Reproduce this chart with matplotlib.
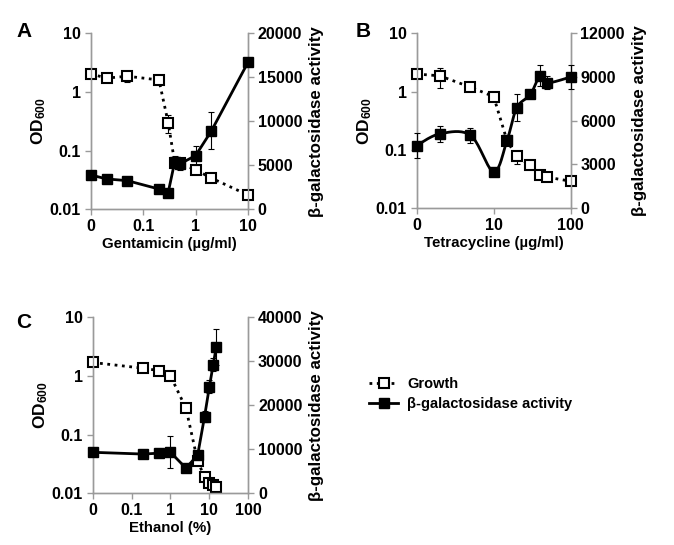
import numpy as np
import matplotlib
matplotlib.use("Agg")
import matplotlib.pyplot as plt
from matplotlib.lines import Line2D

plt.rcParams['font.family'] = ['Liberation Sans', 'DejaVu Sans']
plt.rcParams['font.weight'] = 'bold'
plt.rcParams['mathtext.fontset'] = 'custom'
plt.rcParams['mathtext.rm'] = 'Liberation Sans:bold'
plt.rcParams['mathtext.bf'] = 'Liberation Sans:bold'

# Panel A: gentamicin
genta_conc = [0, 0.02, 0.05, 0.2, 0.3, 0.4, 0.5, 1, 2, 10]
genta_growth = [2.03, 1.72, 1.85, 1.6, 0.30, 0.062, 0.061, 0.047, 0.034, 0.0175]
genta_growth_err = [0.2, 0.2, 0.35, 0.15, 0.1, 0.01, 0.015, 0.006, 0.003, 0.002]
genta_bgal = [3900, 3450, 3250, 2300, 1900, 5400, 5150, 6100, 8900, 16700]
genta_bgal_err = [200, 150, 150, 150, 150, 600, 400, 1100, 2100, 300]

# Panel B: tetracycline
tet_conc = [0, 2, 5, 10, 15, 20, 30, 40, 50, 100]
tet_growth = [2.0, 1.86, 1.19, 0.82, 0.14, 0.077, 0.054, 0.037, 0.034, 0.029]
tet_growth_err = [0.1, 0.7, 0.15, 0.08, 0.02, 0.02, 0.005, 0.004, 0.003, 0.002]
tet_bgal = [4300, 5100, 5000, 2500, 4700, 6900, 7800, 9100, 8600, 9000]
tet_bgal_err = [850, 550, 500, 100, 200, 900, 200, 700, 450, 800]

# Panel C: ethanol
eth_conc = [0, 0.2, 0.5, 1, 2.5, 5, 7.5, 10, 12.5, 15]
eth_growth = [1.69, 1.35, 1.23, 1.0, 0.28, 0.035, 0.019, 0.015, 0.014, 0.0126]
eth_growth_err = [0.1, 0.1, 0.05, 0.12, 0.03, 0.005, 0.002, 0.002, 0.002, 0.001]
eth_bgal = [9300, 8900, 9100, 9300, 5700, 8700, 17400, 24200, 29200, 33200]
eth_bgal_err = [500, 200, 200, 3600, 300, 800, 1300, 1500, 1500, 4100]

GRAY = '#9a9a9a'
MS = 7


def smooth_curve(x, y, n=20):
    """Catmull-Rom curve through the points, in log-x space (Excel style smoothing)"""
    lx = np.log10(x)
    y = np.asarray(y, dtype=float)
    px = np.concatenate([[lx[0]], lx, [lx[-1]]])
    py = np.concatenate([[y[0]], y, [y[-1]]])
    xs, ys = [], []
    for i in range(1, len(px) - 2):
        t = np.linspace(0, 1, n, endpoint=False)
        for p, out in ((px, xs), (py, ys)):
            p0, p1, p2, p3 = p[i - 1], p[i], p[i + 1], p[i + 2]
            out.extend(0.5 * ((2 * p1) + (-p0 + p2) * t
                              + (2 * p0 - 5 * p1 + 4 * p2 - p3) * t ** 2
                              + (-p0 + 3 * p1 - 3 * p2 + p3) * t ** 3))
    xs.append(lx[-1])
    ys.append(y[-1])
    return 10 ** np.array(xs), np.array(ys)


def draw_panel(rect, letter, letter_xy, conc, zero_pos, xmax, xticks, xticklabels,
               xlabel, growth, growth_err, bgal, bgal_err, bgal_max, bgal_step,
               smooth=False):
    ax = fig.add_axes(rect)
    ax2 = ax.twinx()
    x = np.array([zero_pos if c == 0 else c for c in conc], dtype=float)

    ax.set_xscale('log')
    ax.set_yscale('log')
    ax.set_xlim(zero_pos, xmax)
    ax.set_ylim(0.01, 10)
    ax2.set_ylim(0, bgal_max)

    ax.errorbar(x, growth, yerr=growth_err, fmt='none', ecolor='black',
                elinewidth=0.8, capsize=2.5, capthick=0.8, clip_on=False, zorder=3)
    ax.plot(x, growth, linestyle=':', color='black', linewidth=2.0, marker='s',
            markersize=MS, markerfacecolor='white', markeredgecolor='black',
            markeredgewidth=1.5, clip_on=False, zorder=4)

    ax2.errorbar(x, bgal, yerr=bgal_err, fmt='none', ecolor='black',
                 elinewidth=0.8, capsize=2.5, capthick=0.8, clip_on=False, zorder=3)
    if smooth:
        sx, sy = smooth_curve(x, bgal)
        ax2.plot(sx, sy, color='black', linewidth=2.0, clip_on=False, zorder=4)
        ax2.plot(x, bgal, linestyle='none', marker='s', markersize=MS,
                 color='black', clip_on=False, zorder=5)
    else:
        ax2.plot(x, bgal, color='black', linewidth=2.0, marker='s', markersize=MS,
                 clip_on=False, zorder=4)

    ax.set_xticks(xticks)
    ax.set_xticklabels(xticklabels)
    ax.xaxis.set_minor_locator(matplotlib.ticker.NullLocator())
    ax.yaxis.set_minor_locator(matplotlib.ticker.NullLocator())
    ax.set_yticks([0.01, 0.1, 1, 10])
    ax.set_yticklabels(['0.01', '0.1', '1', '10'])
    ax2.set_yticks(np.arange(0, bgal_max + 1, bgal_step))

    for a in (ax, ax2):
        a.spines['top'].set_visible(False)
        for s in ('left', 'right', 'bottom'):
            a.spines[s].set_color(GRAY)
            a.spines[s].set_linewidth(1.0)
        a.tick_params(axis='both', which='major', color=GRAY, length=4,
                      width=1.0, labelsize=11.5, pad=3)

    ax.set_xlabel(xlabel, fontsize=10.8, fontweight='bold', labelpad=2)
    ax.set_ylabel(r'$\mathbf{OD_{600}}$', fontsize=12.5, labelpad=1)
    ax2.set_ylabel('β-galactosidase activity', fontsize=12.2, fontweight='bold',
                   labelpad=5)
    fig.text(letter_xy[0], letter_xy[1], letter, fontsize=15,
             fontweight='bold', va='center', ha='left')
    return ax, ax2


fig = plt.figure(figsize=(6.74, 5.45), dpi=100)

draw_panel([0.1346, 0.616, 0.2334, 0.323], 'A', (0.024, 0.942), genta_conc, 0.01, 10,
           [0.01, 0.1, 1, 10], ['0', '0.1', '1', '10'], 'Gentamicin (µg/ml)',
           genta_growth, genta_growth_err, genta_bgal, genta_bgal_err, 20000, 5000)

draw_panel([0.6182, 0.618, 0.2285, 0.321], 'B', (0.528, 0.943), tet_conc, 1, 100,
           [1, 10, 100], ['0', '10', '100'], 'Tetracycline (µg/ml)',
           tet_growth, tet_growth_err, tet_bgal, tet_bgal_err, 12000, 3000,
           smooth=True)

draw_panel([0.1375, 0.095, 0.2309, 0.323], 'C', (0.024, 0.409), eth_conc, 0.01, 100,
           [0.01, 0.1, 1, 10, 100], ['0', '0.1', '1', '10', '100'], 'Ethanol (%)',
           eth_growth, eth_growth_err, eth_bgal, eth_bgal_err, 40000, 10000)

handles = [
    Line2D([], [], linestyle=':', color='black', linewidth=2.0, marker='s',
           markersize=6.5, markerfacecolor='white', markeredgecolor='black',
           markeredgewidth=1.5),
    Line2D([], [], color='black', linewidth=2.0, marker='s', markersize=6.5),
]
fig.legend(handles, ['Growth', 'β-galactosidase activity'], loc='upper left',
           bbox_to_anchor=(0.528, 0.332), frameon=False,
           handlelength=2.0, handletextpad=0.6, labelspacing=0.38,
           prop={'weight': 'bold', 'size': 10.5})

fig.savefig('out.png', dpi=100)
